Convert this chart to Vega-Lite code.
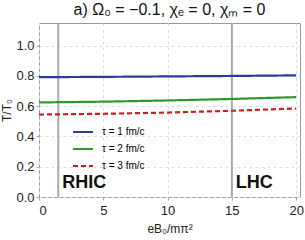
{
  "$schema": "https://vega.github.io/schema/vega-lite/v6.json",
  "width": 261,
  "height": 174,
  "autosize": {"type": "none"},
  "padding": {"left": 39, "top": 23, "right": 5, "bottom": 43},
  "background": "white",
  "config": {
    "font": "Liberation Sans",
    "view": {"stroke": "#999999", "strokeWidth": 1},
    "axis": {"labelColor": "#222", "titleColor": "#222", "labelFontSize": 12, "titleFontSize": 12, "titleFontWeight": "normal", "gridDash": [3, 3], "gridColor": "#dddddd", "domain": false, "tickColor": "#aaaaaa", "tickSize": 3, "labelOverlap": false}
  },
  "title": {"text": "a) Ω₀ = −0.1, χₑ = 0, χₘ = 0", "fontSize": 16, "fontWeight": "normal", "color": "#111", "offset": 4},
  "datasets": {
    "lines": [
      {"x": 0, "y": 0.792, "tau": "τ = 1 fm/c"},
      {"x": 5, "y": 0.794, "tau": "τ = 1 fm/c"},
      {"x": 10, "y": 0.797, "tau": "τ = 1 fm/c"},
      {"x": 15, "y": 0.800, "tau": "τ = 1 fm/c"},
      {"x": 20, "y": 0.804, "tau": "τ = 1 fm/c"},
      {"x": 0, "y": 0.625, "tau": "τ = 2 fm/c"},
      {"x": 5, "y": 0.630, "tau": "τ = 2 fm/c"},
      {"x": 10, "y": 0.638, "tau": "τ = 2 fm/c"},
      {"x": 15, "y": 0.648, "tau": "τ = 2 fm/c"},
      {"x": 20, "y": 0.660, "tau": "τ = 2 fm/c"},
      {"x": 0, "y": 0.545, "tau": "τ = 3 fm/c"},
      {"x": 5, "y": 0.550, "tau": "τ = 3 fm/c"},
      {"x": 10, "y": 0.558, "tau": "τ = 3 fm/c"},
      {"x": 15, "y": 0.570, "tau": "τ = 3 fm/c"},
      {"x": 20, "y": 0.585, "tau": "τ = 3 fm/c"}
    ],
    "vlines": [{"x": 1.5}, {"x": 15}],
    "labels": [{"x": 1.8, "y": 0.09, "t": "RHIC"}, {"x": 15.3, "y": 0.09, "t": "LHC"}]
  },
  "layer": [
    {
      "data": {"name": "vlines"},
      "mark": {"type": "rule", "color": "#aaaaaa", "strokeWidth": 2},
      "encoding": {
        "x": {"field": "x", "type": "quantitative", "scale": {"domain": [0, 20.3], "nice": false, "zero": false},
              "axis": {"title": "eB₀/mπ²", "values": [0, 5, 10, 15, 20], "grid": true, "titlePadding": 6, "labelPadding": 4, "labelOverlap": false, "labelFontSize": 13}},
        "y": {"value": 0},
        "y2": {"value": 174}
      }
    },
    {
      "data": {"name": "lines"},
      "mark": {"type": "line", "strokeWidth": 2.2},
      "encoding": {
        "x": {"field": "x", "type": "quantitative"},
        "y": {"field": "y", "type": "quantitative", "scale": {"domain": [0, 1.15], "nice": false},
              "axis": {"title": "T/T₀", "values": [0, 0.2, 0.4, 0.6, 0.8, 1.0], "tickCount": 6, "format": ".1f", "grid": true, "titlePadding": 2, "labelPadding": 2, "labelFontSize": 13, "labelOverlap": false, "labelBound": false}},
        "color": {"field": "tau", "type": "nominal",
                  "scale": {"domain": ["τ = 1 fm/c", "τ = 2 fm/c", "τ = 3 fm/c"], "range": ["#2b3a9b", "#2a9a2a", "#cc1f1f"]},
                  "legend": {"title": null, "orient": "none", "legendX": 33, "legendY": 98, "symbolType": "stroke", "symbolSize": 400, "symbolStrokeWidth": 2, "labelFontSize": 10, "rowPadding": 1, "labelOffset": 8}},
        "strokeDash": {"field": "tau", "type": "nominal",
                       "scale": {"domain": ["τ = 1 fm/c", "τ = 2 fm/c", "τ = 3 fm/c"], "range": [[1, 0], [1, 0], [5, 3]]},
                       "legend": null}
      }
    },
    {
      "data": {"name": "labels"},
      "mark": {"type": "text", "fontSize": 18, "fontWeight": "bold", "align": "left", "baseline": "middle", "color": "#111"},
      "encoding": {
        "x": {"field": "x", "type": "quantitative"},
        "y": {"field": "y", "type": "quantitative",
              "axis": {"title": "T/T₀", "values": [0, 0.2, 0.4, 0.6, 0.8, 1.0], "tickCount": 6, "format": ".1f", "grid": true, "titlePadding": 2, "labelPadding": 2, "labelFontSize": 13, "labelOverlap": false, "labelBound": false}},
        "text": {"field": "t"}
      }
    }
  ]
}
